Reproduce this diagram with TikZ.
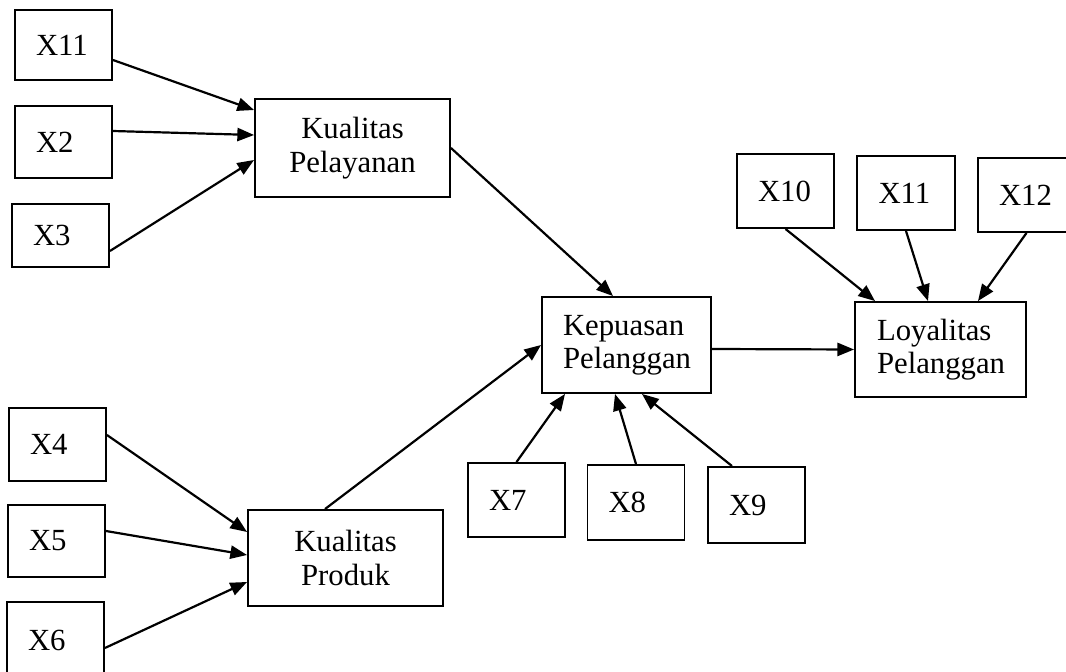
\documentclass[tikz,border=0pt]{standalone}
\usepackage{fontspec}
\setmainfont{Liberation Serif}
\usetikzlibrary{arrows.meta}
\tikzset{>={Triangle[length=9.5pt,width=7.5pt]}}
\tikzset{
	ind/.style={draw,line width=1.1pt,minimum width=1.94cm,minimum height=1.48cm,
		inner xsep=0.42cm,text width=1.1cm,align=left,
		font=\fontsize{17.5}{19}\selectfont},
	lat/.style={draw,line width=1.1pt,minimum height=1.92cm,
		font=\fontsize{17.5}{19}\selectfont},
	path/.style={->,line width=1.25pt}
}

\begin{document}
\begin{tikzpicture}[x=0.02cm,y=-0.02cm]
		\useasboundingbox (0,0) rectangle (1066,672);
		\clip (0,0) rectangle (1066,672);
		% indikator
		\node[ind,minimum height=1.4cm] (x11a) at (63.5,45) {X11};
		\node[ind,minimum height=1.44cm] (x2) at (63.5,142) {X2};
		\node[ind,minimum width=1.9cm,minimum height=1.26cm] (x3) at (60.5,235.5) {X3};
		\node[ind,minimum height=1.46cm] (x4) at (57.5,444.5) {X4};
		\node[ind,minimum height=1.44cm] (x5) at (56.5,541) {X5};
		\node[ind,minimum width=1.9cm,minimum height=1.52cm] (x6) at (55.5,640) {X6};
		\node[ind] (x7) at (516.5,500) {X7};
		\node[ind,minimum height=1.5cm] (x8) at (636,502.5) {X8};
		\node[ind,minimum height=1.52cm] (x9) at (756.5,505) {X9};
		\node[ind] (x10) at (785.5,191) {X10};
		\node[ind,minimum width=1.96cm] (x11b) at (906,193) {X11};
		\node[ind] (x12) at (1026.5,195) {X12};
		% variabel
		\node[lat,minimum width=3.9cm,minimum height=1.96cm,align=center] (pel) at (352.5,148) {Kualitas\\Pelayanan};
		\node[lat,minimum width=3.9cm,align=center] (prod) at (345.5,558) {Kualitas\\Produk};
		\node[lat,minimum width=3.38cm,inner xsep=0.42cm,text width=2.54cm,align=left] (kep) at (626.5,345) {Kepuasan\\Pelanggan};
		\node[lat,minimum width=3.42cm,minimum height=1.9cm,inner xsep=0.44cm,text width=2.54cm,align=left] (loy) at (940.5,349.5) {Loyalitas\\Pelanggan};
		% panah
		\draw[path] ([yshift=-0.3cm]x11a.east) -- ([yshift=0.76cm]pel.west);
		\draw[path] ([yshift=0.22cm]x2.east) -- ([yshift=0.26cm]pel.west);
		\draw[path] ([yshift=-0.31cm]x3.east) -- ([yshift=-0.24cm]pel.west);
		\draw[path] ([yshift=0.19cm]x4.east) -- ([yshift=0.52cm]prod.west);
		\draw[path] ([yshift=0.2cm]x5.east) -- ([yshift=0.06cm]prod.west);
		\draw[path] ([yshift=-0.16cm]x6.east) -- ([yshift=-0.48cm]prod.west);
		\draw[path] ([xshift=-0.41cm]prod.north) -- (kep.west);
		\draw[path] (pel.east) -- ([xshift=-0.27cm]kep.north);
		\draw[path] ([yshift=-0.08cm]kep.east) -- (loy.west);
		\draw[path] (x7.north) -- ([xshift=-1.23cm]kep.south);
		\draw[path] (x8.north) -- ([xshift=-0.23cm]kep.south);
		\draw[path] ([xshift=-0.49cm]x9.north) -- ([xshift=0.31cm]kep.south);
		\draw[path] (x10.south) -- ([xshift=-1.31cm]loy.north);
		\draw[path] (x11b.south) -- ([xshift=-0.25cm]loy.north);
		\draw[path] (x12.south) -- ([xshift=0.75cm]loy.north);
	\end{tikzpicture}
\end{document}
